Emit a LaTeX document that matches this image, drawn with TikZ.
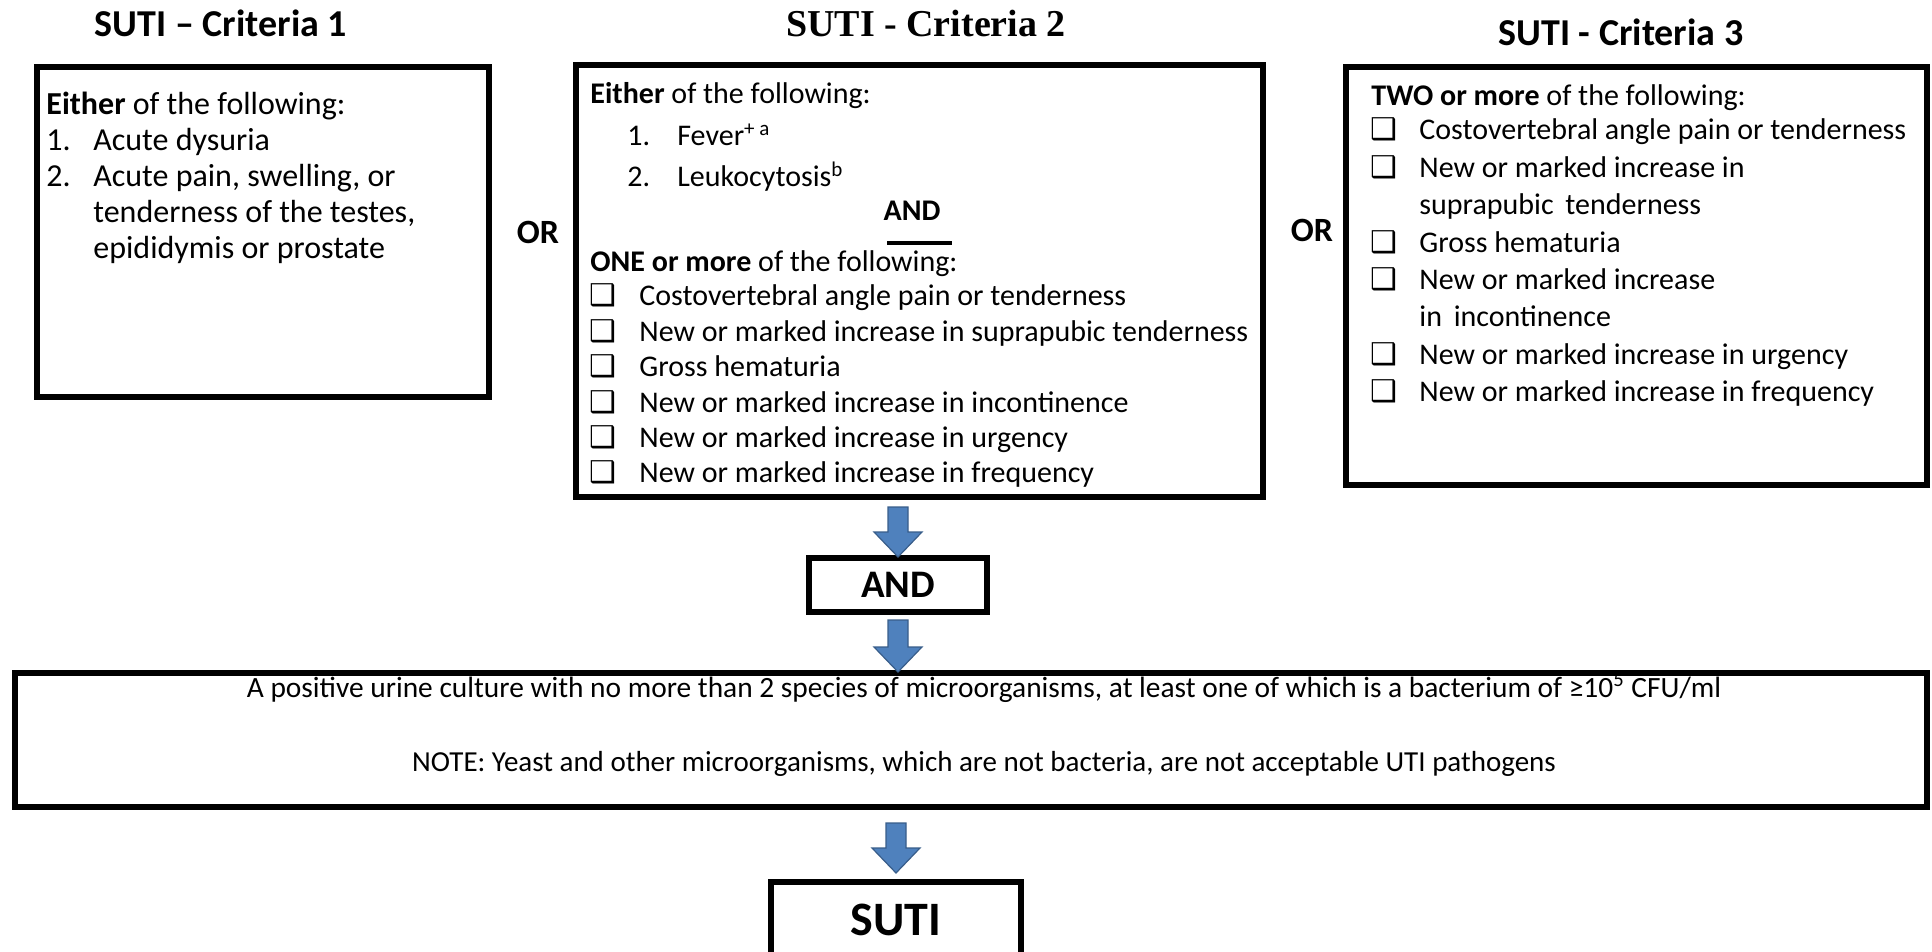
\documentclass[tikz,border=0pt]{standalone}
\usepackage{fontspec}
\setmainfont{Carlito}
\newfontfamily\timesfont{Liberation Serif}
\newfontfamily\dingfont{DejaVu Sans}
\usetikzlibrary{calc}
\definecolor{arrowfill}{RGB}{79,129,189}
\definecolor{arrowline}{RGB}{56,93,138}
\newcommand\chk{{\dingfont\fontsize{15}{15}\selectfont ❑}}
% block arrow: upper node, lower node, node giving x, top gap, bottom gap
\newcommand\blockarr[5]{%
  \draw[arrowbody] let \p1=(#1.south), \p2=(#2.north), \p3=(#3.center) in
    (\x3-5pt,\y1-#4) -- (\x3+5pt,\y1-#4) -- (\x3+5pt,\y2+#5+12.5pt)
    -- (\x3+12pt,\y2+#5+12.5pt) -- (\x3,\y2+#5) -- (\x3-12pt,\y2+#5+12.5pt)
    -- (\x3-5pt,\y2+#5+12.5pt) -- cycle;}
\tikzset{
  box/.style={draw, line width=3pt, anchor=north west, outer sep=0pt, inner sep=0pt},
  title/.style={inner sep=0pt, font=\fontsize{19}{22}\selectfont\bfseries},
  body/.style={anchor=base west, inner sep=0pt, font=\fontsize{15}{18.5}\selectfont},
  note/.style={anchor=base, inner sep=0pt, font=\fontsize{14.7}{17}\selectfont},
  arrowbody/.style={fill=arrowfill, draw=arrowline, line width=0.6pt, line join=miter}
}
\begin{document}
\begin{tikzpicture}[x=0.5pt, y=-0.5pt]
  \useasboundingbox (0,0) rectangle (1932,952);
  \clip (0,0) rectangle (1932,952);

  \node[title] (title1) at (221,23) {SUTI – Criteria 1};
  \node[title, font=\timesfont\fontsize{19}{22}\selectfont\bfseries] (title2) at (926,24) {SUTI - Criteria 2};
  \node[title] (title3) at (1621,32) {SUTI - Criteria 3};

  \node[box, minimum width=226pt, minimum height=165pt] (crit1) at (37,67) {};
  \node[box, minimum width=343.5pt, minimum height=216pt] (crit2) at (576,65) {};
  \node[box, minimum width=290.5pt, minimum height=209pt] (crit3) at (1346,67) {};

  \node[title, font=\fontsize{17}{20}\selectfont\bfseries] (or1) at (538,232) {OR};
  \node[title, font=\fontsize{17}{20}\selectfont\bfseries] (or2) at (1312,230) {OR};

  \node[body, font=\fontsize{16}{18}\selectfont] (crit1txt) at (46,115) {\begin{tabular}[t]{@{}p{23.5pt}@{}l@{}}
    \multicolumn{2}{@{}l@{}}{\textbf{Either} of the following:}\\
    1. & Acute dysuria\\
    2. & Acute pain, swelling, or\\
       & tenderness of the testes,\\
       & epididymis or prostate
  \end{tabular}};

  \node[body] (crit2head) at (590,104) {\textbf{Either} of the following:};
  \node[body, font=\fontsize{15}{20.5}\selectfont] (crit2list) at (627,146) {\begin{tabular}[t]{@{}p{25pt}@{}l@{}}
    1. & Fever\textsuperscript{+ a}\\
    2. & Leukocytosis\textsuperscript{b}
  \end{tabular}};
  \node[body, anchor=base] (crit2and) at (912,221) {\textbf{AND}};
  \draw[line width=2pt] (887,243) -- (952,243);
  \node[body] (crit2one) at (590,271) {\textbf{ONE or more} of the following:};
  \node[body, font=\fontsize{15}{17.7}\selectfont] (crit2chk) at (589,306) {\begin{tabular}[t]{@{}p{25pt}@{}l@{}}
    \chk & Costovertebral angle pain or tenderness\\
    \chk & New or marked increase in suprapubic tenderness\\
    \chk & Gross hematuria\\
    \chk & New or marked increase in incontinence\\
    \chk & New or marked increase in urgency\\
    \chk & New or marked increase in frequency
  \end{tabular}};

  \node[body] (crit3head) at (1371,106) {\textbf{TWO or more} of the following:};
  \node[body, font=\fontsize{15}{18.7}\selectfont] (crit3chk) at (1370,140) {\begin{tabular}[t]{@{}p{24.5pt}@{}l@{}}
    \chk & Costovertebral angle pain or tenderness\\
    \chk & New or marked increase in\\
         & suprapubic\, tenderness\\
    \chk & Gross hematuria\\
    \chk & New or marked increase\\
         & in\, incontinence\\
    \chk & New or marked increase in urgency\\
    \chk & New or marked increase in frequency
  \end{tabular}};

  \node[box, minimum width=89pt, minimum height=27pt, font=\fontsize{19.5}{22}\selectfont\bfseries] (andbox) at (809,558) {\raisebox{-3pt}{AND}};
  \node[box, minimum width=956pt, minimum height=67pt] (culture) at (15,673) {};
  \node[note] (culture1) at (984,697) {A positive urine culture with no more than 2 species of microorganisms, at least one of which is a bacterium of ≥10\textsuperscript{5} CFU/ml};
  \node[note, font=\fontsize{14.5}{17}\selectfont] (culture2) at (984,771) {NOTE: Yeast and other microorganisms, which are not bacteria, are not acceptable UTI pathogens};
  \node[box, minimum width=125pt, minimum height=38pt, font=\fontsize{24}{26}\selectfont\bfseries] (suti) at (771,882) {SUTI};

  \blockarr{crit2}{andbox}{andbox}{5pt}{0.5pt}
  \blockarr{andbox}{culture}{andbox}{4pt}{0.5pt}
  \blockarr{culture}{suti}{suti}{8pt}{4.5pt}
\end{tikzpicture}
\end{document}
